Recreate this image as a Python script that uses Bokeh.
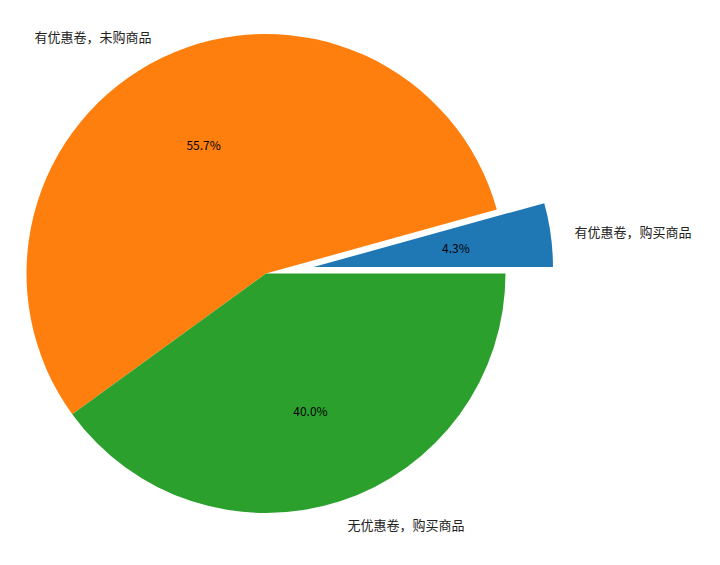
import numpy as np
from bokeh.plotting import figure
from bokeh.models import Range1d, ColumnDataSource
from bokeh.core.properties import value
from bokeh.embed import file_html
from bokeh.resources import INLINE

labels = ["有优惠卷，购买商品", "有优惠卷，未购商品", "无优惠卷，购买商品"]
shares = [4.3, 55.7, 40.0]
explode = [0.2, 0.0, 0.0]
colors = ["#1f77b4", "#ff7f0e", "#2ca02c"]

W, H = 704, 549
p = figure(width=W, height=H, x_range=Range1d(0, W), y_range=Range1d(0, H),
           output_backend="svg", toolbar_location=None, min_border=0)
p.axis.visible = False
p.grid.visible = False
p.outline_line_color = None
p.background_fill_color = "white"

cx, cy, R = 265.5, 276.0, 239.5
vals = np.array(shares, dtype=float)
fr = vals / vals.sum()
ends = np.cumsum(fr) * 2 * np.pi
starts = np.concatenate([[0.0], ends[:-1]])
mids = (starts + ends) / 2
ex = np.array(explode)
wx = cx + ex * R * np.cos(mids)
wy = cy + ex * R * np.sin(mids)

src = ColumnDataSource(dict(x=wx, y=wy, s=starts, e=ends, c=colors))
p.wedge(x="x", y="y", radius=R, start_angle="s", end_angle="e",
        fill_color="c", line_color=None, source=src)

font = value("Noto Sans CJK SC")
# percentage texts
px = wx + 0.6 * R * np.cos(mids)
py = wy + 0.6 * R * np.sin(mids)
pct = [f"{v:.1f}%" for v in fr * 100]
p.text(x=px, y=py, text=pct, text_font=font, text_font_size="12px",
       text_align="center", text_baseline="middle", text_color="black")

# labels
lx = wx + 1.1 * R * np.cos(mids)
ly = wy + 1.1 * R * np.sin(mids)
for i in range(len(labels)):
    align = "left" if np.cos(mids[i]) >= 0 else "right"
    p.text(x=[lx[i]], y=[ly[i]], text=[labels[i]], text_font=font,
           text_font_size="13px", text_align=align, text_baseline="middle",
           text_color="#222222")

open("out.html", "w").write(file_html(p, INLINE))
